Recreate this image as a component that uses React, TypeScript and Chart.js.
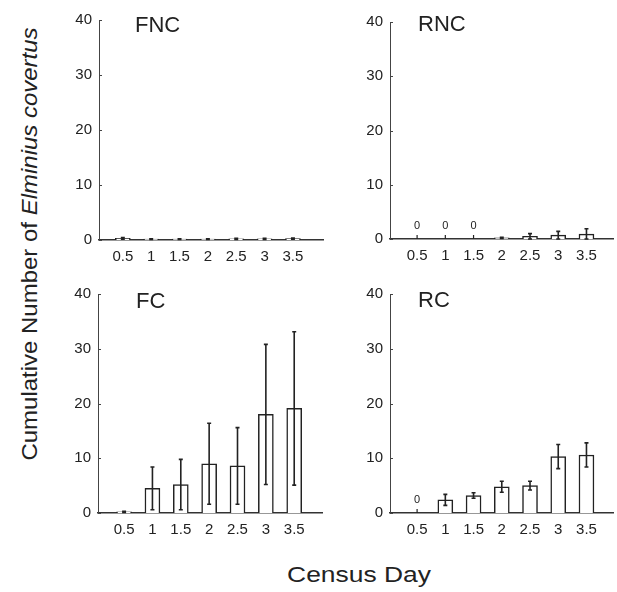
import React, { useEffect, useRef } from 'react';
import { Chart, registerables } from 'chart.js';
Chart.register(...registerables);

const censusDays = [0.5, 1, 1.5, 2, 2.5, 3, 3.5];
const dayLabels = ['0.5', '1', '1.5', '2', '2.5', '3', '3.5'];
const yTicks = [0, 10, 20, 30, 40];

const fncMean = [0.3, 0.15, 0.15, 0.15, 0.2, 0.2, 0.25];
const fncErr = [0.15, 0.05, 0.05, 0.05, 0.1, 0.1, 0.1];
const rncMean = [0, 0, 0, 0.2, 0.5, 0.7, 0.9];
const rncErr = [0, 0, 0, 0.1, 0.5, 0.7, 1.0];
const fcMean = [0.2, 4.5, 5.2, 9.0, 8.6, 18.0, 19.1];
const fcErr = [0.1, 3.9, 4.6, 7.4, 7.0, 12.8, 14.0];
const rcMean = [0, 2.4, 3.2, 4.8, 5.0, 10.3, 10.6];
const rcErr = [0, 1.0, 0.5, 1.0, 0.8, 2.2, 2.2];

const FONT = '"Liberation Sans", Arial, Helvetica, sans-serif';
const INK = '#222';
const PADT = 12;
const PADR = 4;
const YW = 40;
const XH = 30;

type PanelProps = {
  title: string;
  mean: number[];
  err: number[];
  L: number; T: number; R: number; B: number;
  tdx: number; tdy: number;
  xmin: number; xmax: number;
};

function Panel({ title, mean, err, L, T, R, B, tdx, tdy, xmin, xmax }: PanelProps) {
  const ref = useRef<HTMLCanvasElement | null>(null);
  const W = R - L + YW + PADR;
  const H = B - T + PADT + XH;
  useEffect(() => {
    if (!ref.current) return;
    const overlay = {
      id: 'overlay',
      afterDatasetsDraw(chart: any) {
        const { ctx, chartArea, scales } = chart;
        const xs = scales.x, ys = scales.y;
        ctx.save();
        ctx.strokeStyle = '#444';
        ctx.lineWidth = 1;
        yTicks.forEach((v) => {
          const py = Math.round(ys.getPixelForValue(v)) + 0.5;
          ctx.beginPath();
          ctx.moveTo(chartArea.left, py);
          ctx.lineTo(chartArea.left + 3, py);
          ctx.stroke();
        });
        censusDays.forEach((d, i) => {
          const m = mean[i];
          const e = err[i];
          const px = xs.getPixelForValue(d);
          const base = ys.getPixelForValue(0);
          if (m === 0) {
            ctx.strokeStyle = INK;
            ctx.lineWidth = 1.2;
            ctx.beginPath();
            ctx.moveTo(px, base);
            ctx.lineTo(px, base - 4);
            ctx.stroke();
            ctx.fillStyle = INK;
            ctx.font = `11px ${FONT}`;
            ctx.textAlign = 'center';
            ctx.textBaseline = 'alphabetic';
            ctx.fillText('0', px, base - 10);
          } else if (e > 0) {
            const yt = ys.getPixelForValue(m + e);
            const yb = ys.getPixelForValue(Math.max(m - e, 0));
            ctx.strokeStyle = INK;
            ctx.lineWidth = 1.6;
            ctx.beginPath();
            ctx.moveTo(px, yt);
            ctx.lineTo(px, yb);
            ctx.moveTo(px - 2, yt);
            ctx.lineTo(px + 2, yt);
            ctx.moveTo(px - 2, yb);
            ctx.lineTo(px + 2, yb);
            ctx.stroke();
          }
        });
        ctx.fillStyle = INK;
        ctx.font = `22px ${FONT}`;
        ctx.textAlign = 'left';
        ctx.textBaseline = 'alphabetic';
        ctx.fillText(title, chartArea.left + tdx, chartArea.top + tdy);
        ctx.restore();
      },
    };
    const chart = new Chart(ref.current, {
      type: 'bar',
      data: {
        datasets: [
          {
            data: censusDays.map((x, i) => ({ x, y: mean[i] })),
            backgroundColor: '#ffffff',
            borderColor: INK,
            borderWidth: 1.5,
            barThickness: 15,
          } as any,
        ],
      },
      options: {
        responsive: false,
        animation: false,
        layout: { padding: { top: PADT, right: PADR, left: 0, bottom: 0 } },
        plugins: { legend: { display: false }, tooltip: { enabled: false } },
        scales: {
          x: {
            type: 'linear',
            offset: false,
            min: xmin,
            max: xmax,
            grid: { display: false, drawTicks: false, offset: false },
            border: { display: true, color: '#333', width: 1.5 },
            ticks: {
              padding: 8,
              color: INK,
              font: { family: FONT, size: 15 },
              autoSkip: false,
              maxRotation: 0,
              callback: (_v: any, idx: number) => dayLabels[idx],
            },
            afterBuildTicks: (s: any) => {
              s.ticks = censusDays.map((v) => ({ value: v }));
            },
            afterFit: (s: any) => {
              s.height = XH;
            },
          },
          y: {
            min: 0,
            max: 40,
            grid: { display: false, drawTicks: false },
            border: { display: true, color: '#444', width: 1 },
            ticks: {
              padding: 7,
              color: INK,
              font: { family: FONT, size: 15 },
            },
            afterBuildTicks: (s: any) => {
              s.ticks = yTicks.map((v) => ({ value: v }));
            },
            afterFit: (s: any) => {
              s.width = YW;
            },
          },
        },
      } as any,
      plugins: [overlay],
    });
    return () => chart.destroy();
  }, []);
  return (
    <canvas
      ref={ref}
      width={W}
      height={H}
      style={{ position: 'absolute', left: L - YW, top: T - PADT, width: W, height: H }}
    />
  );
}

export default function App() {
  return (
    <div
      style={{
        position: 'absolute',
        left: 0,
        top: 0,
        width: 617,
        height: 592,
        background: '#fff',
        fontFamily: FONT,
        color: INK,
        overflow: 'hidden',
      }}
    >
      <Panel title="FNC" mean={fncMean} err={fncErr} L={99} T={16} R={323} B={240} tdx={36} tdy={12} xmin={0.08} xmax={4.03} />
      <Panel title="RNC" mean={rncMean} err={rncErr} L={390} T={18} R={613} B={239} tdx={28} tdy={9} xmin={0.02} xmax={3.97} />
      <Panel title="FC" mean={fcMean} err={fcErr} L={98} T={290} R={322} B={513} tdx={38} tdy={14} xmin={0.04} xmax={3.99} />
      <Panel title="RC" mean={rcMean} err={rcErr} L={390} T={290} R={613} B={513} tdx={28} tdy={13} xmin={0.02} xmax={3.97} />
      <div
        style={{
          position: 'absolute',
          left: 30,
          top: 244,
          transform: 'translate(-50%, -50%) rotate(-90deg) scaleX(1.09)',
          whiteSpace: 'nowrap',
          fontSize: 22,
        }}
      >
        Cumulative Number of <i>Elminius covertus</i>
      </div>
      <div
        style={{
          position: 'absolute',
          left: 359,
          top: 575,
          transform: 'translate(-50%, -50%) scaleX(1.2)',
          whiteSpace: 'nowrap',
          fontSize: 22,
        }}
      >
        Census Day
      </div>
    </div>
  );
}
